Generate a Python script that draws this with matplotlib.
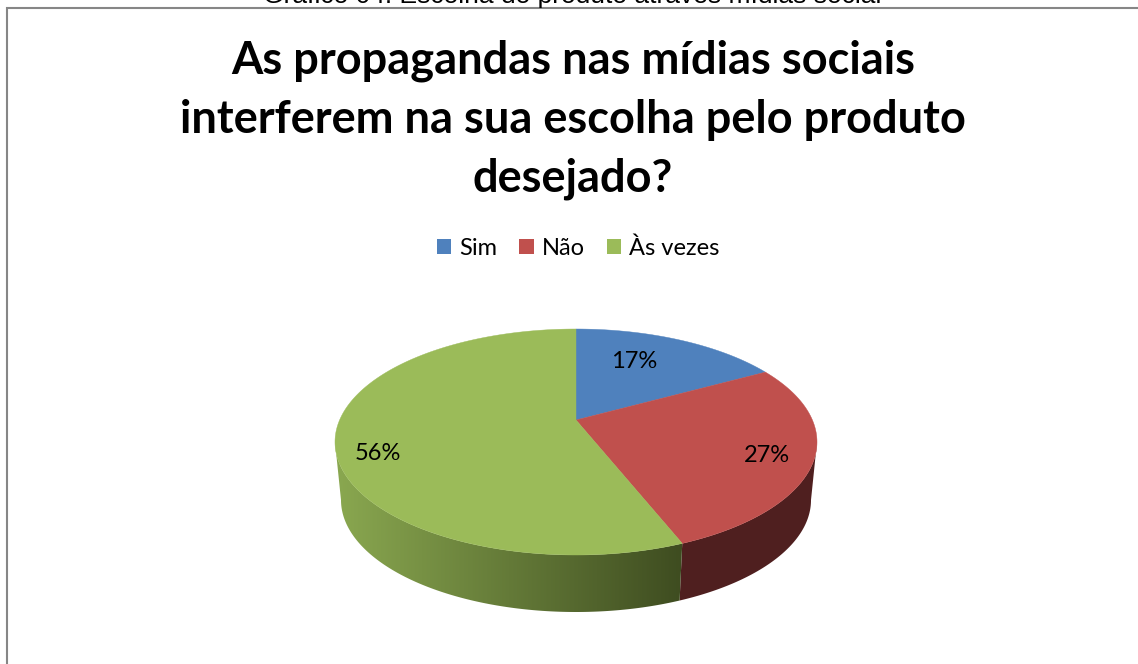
import numpy as np
import matplotlib
matplotlib.use("Agg")
import matplotlib.pyplot as plt
from matplotlib.colors import LinearSegmentedColormap
from matplotlib.patches import Polygon, Rectangle

# chart values
categories = ["Sim", "Não", "Às vezes"]
values = [17, 27, 56]
colors = ["#4f81bd", "#c0504d", "#9bbb59"]
title = "As propagandas nas mídias sociais\ninterferem na sua escolha pelo produto\ndesejado?"
caption = "Gráfico 04: Escolha do produto através mídias social"
label_pos = [(634, 362), (767, 456), (378, 453)]

W, H = 1138, 664
CX, CY = 576, 442
RX, RY = 241, 113
APEX = 22  # apex sits above the ellipse centre (perspective)
DEPTH = 58


def project(theta, cy=CY, rx=RX, ry=RY):
    # unit circle to screen ellipse, with a simple perspective so the
    # slice edges meet at the apex rather than the ellipse centre
    k = APEX / RY
    u, v = np.cos(theta), np.sin(theta)
    w = 1 + k * v
    x = CX + rx * np.sqrt(1 - k ** 2) * u / w
    y = cy - ry * (v + k) / w
    return np.column_stack([x, y])


plt.rcParams["font.family"] = ["Lato", "DejaVu Sans"]
fig = plt.figure(figsize=(W / 100, H / 100), dpi=100)
ax = fig.add_axes([0, 0, 1, 1])

# pie() gives the slice angles, the wedges are then redrawn in perspective
wedges, _ = ax.pie(values, colors=colors, startangle=90, counterclock=False)
for wedge in wedges:
    wedge.set_visible(False)
ax.set_aspect("auto")
ax.axis("off")

ax.add_patch(Rectangle((7, 7.5), W, H, fc="white", ec="#868686", lw=1.5, zorder=0))

side_cmap = LinearSegmentedColormap.from_list("side", ["#8aa850", "#3e4c20"])
side_colors = [None, "#4f1f1f", None]
grad = np.linspace(0, 1, 256).reshape(1, -1)

# only the front of the rim shows, between the widest points of the ellipse
front_lo = -180 + np.degrees(np.arcsin(APEX / RY))
front_hi = -np.degrees(np.arcsin(APEX / RY))

for i, wedge in enumerate(wedges):
    lo, hi = max(wedge.theta1, front_lo), min(wedge.theta2, front_hi)
    if lo >= hi:
        continue
    t = np.radians(np.linspace(lo, hi, 200))
    top_arc = project(t)
    bottom_arc = project(t, cy=CY + DEPTH, rx=RX - 6, ry=RY - 1)
    side = np.vstack([top_arc, bottom_arc[::-1]])
    if side_colors[i] is not None:
        ax.add_patch(Polygon(side, fc=side_colors[i], ec="none", zorder=1))
    else:
        clip = Polygon(side, fc="none", ec="none", transform=ax.transData)
        ax.add_patch(clip)
        img = ax.imshow(grad, cmap=side_cmap, extent=[335, 684, 620, 430],
                        aspect="auto", zorder=1)
        img.set_clip_path(clip)

for i, wedge in enumerate(wedges):
    t = np.radians(np.linspace(wedge.theta1, wedge.theta2, 200))
    apex = [[CX, CY - APEX]]
    ax.add_patch(Polygon(np.vstack([apex, project(t)]), fc=colors[i], ec=colors[i],
                         lw=0.3, zorder=2))

for val, (x, y) in zip(values, label_pos):
    ax.text(x, y, f"{val}%", fontsize=17, ha="center", va="center", color="black", zorder=3)

ax.set_xlim(0, W)
ax.set_ylim(H, 0)

ax.text(573, 120, title, fontsize=32.5, fontweight="bold", ha="center", va="center",
        linespacing=1.5, color="black")
ax.text(572, 3, caption, fontsize=19, family="Liberation Sans", ha="center", va="baseline",
        color="black", clip_on=False)

leg_handles = [Rectangle((0, 0), 1, 1, fc=c, ec="none") for c in colors]
ax.legend(leg_handles, categories, ncol=3, loc="center", bbox_to_anchor=(578, 248),
          bbox_transform=ax.transData, frameon=False, fontsize=17, handlelength=0.62,
          handleheight=0.62, handletextpad=0.32, columnspacing=0.95)

fig.savefig("out.png", dpi=100)
